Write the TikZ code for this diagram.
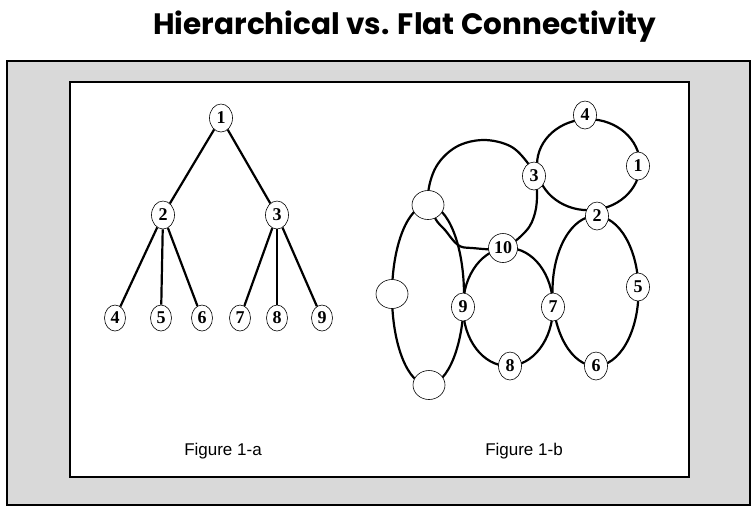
\documentclass[tikz,border=0pt]{standalone}
\usepackage{fontspec}
\setmainfont{Liberation Serif}
\newfontfamily\titlefont{Poppins}
\newfontfamily\capfont{Liberation Sans}
\usetikzlibrary{shapes.geometric}

\definecolor{panelgray}{HTML}{D9D9D9}

\begin{document}
\begin{tikzpicture}[x=1pt,y=-1pt,
  netnode/.style={ellipse, draw, line width=0.6pt, fill=white, inner sep=0pt,
    minimum width=23pt, minimum height=28pt, font=\bfseries\fontsize{18}{18}\selectfont},
  leafnode/.style={netnode, minimum width=21pt, minimum height=26pt},
  blanknode/.style={netnode, minimum width=32pt, minimum height=29pt},
  link/.style={line width=2.2pt},
  ring/.style={line width=2.2pt},
  framebox/.style={draw=black, line width=1.6pt},
  caption/.style={anchor=base, font=\capfont\fontsize{17}{17}\selectfont}]

% canvas
\useasboundingbox (0,0) rectangle (752,507);
\fill[white] (0,0) rectangle (752,507);

% title
\node[anchor=base, font=\titlefont\bfseries\fontsize{29.5}{29.5}\selectfont] (title) at (405,34)
  {Hierarchical vs. Flat Connectivity};

% panels
\draw[framebox, fill=panelgray] (7,61) rectangle (750,505);
\draw[framebox, fill=white] (70,82) rectangle (689,477);

% ---------- Figure 1-a: tree ----------
\node[netnode] (t1) at (221,118) {1};
\node[netnode] (t2) at (163,215) {2};
\node[netnode] (t3) at (277,215) {3};
\node[leafnode] (t4) at (115,318) {4};
\node[leafnode] (t5) at (161,318) {5};
\node[leafnode] (t6) at (202,318) {6};
\node[leafnode] (t7) at (240,318) {7};
\node[leafnode] (t8) at (277,318) {8};
\node[leafnode] (t9) at (322,318) {9};

\draw[link] (t1) -- (t2);
\draw[link] (t1) -- (t3);
\draw[link] (t2) -- (t4);
\draw[link] (t2) -- (t5);
\draw[link] (t2) -- (t6);
\draw[link] (t3) -- (t7);
\draw[link] (t3) -- (t8);
\draw[link] (t3) -- (t9);

% ---------- Figure 1-b: overlapping rings ----------
% ring through 4, 1, 2, 3
\draw[ring] (588.5,164.7) ellipse [x radius=51.5, y radius=45.5];
% large ring through the upper blank node, 3 and 10
\draw[ring] plot[smooth cycle, tension=0.6] coordinates {
  (428,196) (436,167) (456,147) (483,140) (510,146) (527,162) (534,176)
  (537,192) (535,213) (526,231) (503,248) (472,248) (458,245) (445,230) (435,218)};
% tall ring through the three blank nodes and 9
\draw[ring] (428,295) ellipse [x radius=36, y radius=90];
% ring through 10, 9, 8, 7
\draw[ring] (508,307) ellipse [x radius=45, y radius=59];
% ring through 2, 7, 6, 5
\draw[ring] (595.5,291) ellipse [x radius=43, y radius=75];

\node[netnode] (f4) at (585,115) {4};
\node[netnode] (f1) at (638,166) {1};
\node[netnode] (f3) at (534,176) {3};
\node[netnode] (f2) at (597,216) {2};
\node[netnode, minimum width=29pt, minimum height=29pt] (f10) at (503,248) {10};
\node[netnode] (f9) at (463,307) {9};
\node[netnode] (f7) at (553,307) {7};
\node[netnode] (f5) at (638,287) {5};
\node[netnode] (f8) at (510,366) {8};
\node[netnode] (f6) at (596,366) {6};
\node[blanknode] (fa) at (428,205) {};
\node[blanknode] (fb) at (392,294) {};
\node[blanknode] (fc) at (429,385) {};

% captions
\node[caption] (capa) at (223,455) {Figure 1-a};
\node[caption] (capb) at (524,455) {Figure 1-b};
\end{tikzpicture}
\end{document}
